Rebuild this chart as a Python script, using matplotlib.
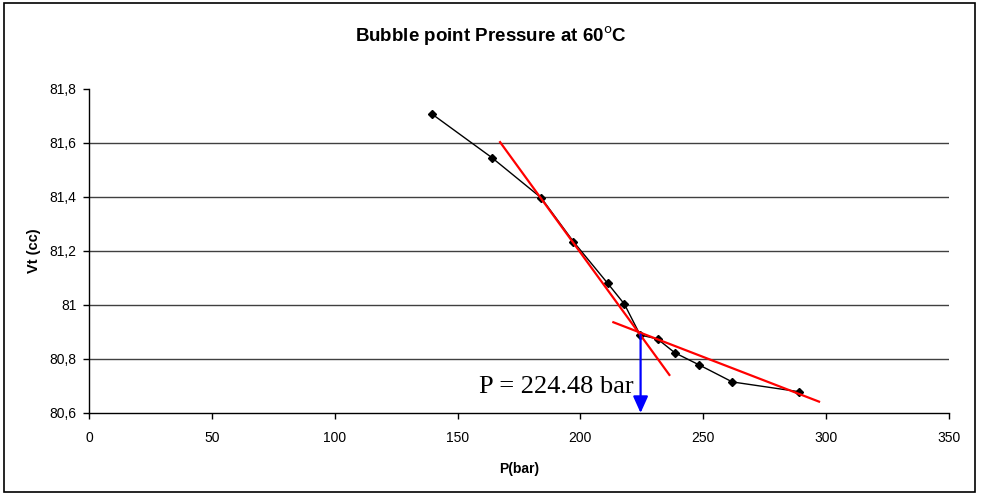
import matplotlib
matplotlib.use("Agg")
import matplotlib.pyplot as plt
from matplotlib.patches import Rectangle
from matplotlib.ticker import FuncFormatter

# measured points: pressure (bar) vs total volume (cc)
pressure = [139.6, 163.9, 184.0, 197.1, 211.1, 217.9, 224.3, 231.4, 238.4, 248.1, 261.8, 288.8]
volume = [81.707, 81.546, 81.397, 81.235, 81.080, 81.003, 80.889, 80.874, 80.823, 80.779, 80.715, 80.679]

# hand-drawn trend lines (endpoints)
steep_x = [167.3, 236.2]
steep_y = [81.603, 80.741]
flat_x = [213.4, 297.1]
flat_y = [80.936, 80.642]

bubble_p = 224.48
bubble_v = 80.89

plt.rcParams['font.family'] = ['Liberation Sans', 'DejaVu Sans']

fig = plt.figure(figsize=(9.81, 4.94), dpi=100)
ax = fig.add_axes([0.0907, 0.164, 0.8767, 0.656])

# chart border
fig.patches.append(Rectangle((0.004, 0.004), 0.99, 0.99, transform=fig.transFigure,
                             fill=False, edgecolor='black', linewidth=1.2))

for y in [80.8, 81.0, 81.2, 81.4, 81.6]:
    ax.axhline(y, color='#404040', linewidth=1, zorder=1)

ax.plot(pressure, volume, color='black', linewidth=1, marker='D', markersize=4.5, zorder=3)
ax.plot(steep_x, steep_y, color='red', linewidth=1.6, zorder=4)
ax.plot(flat_x, flat_y, color='red', linewidth=1.6, zorder=4)

ax.annotate('', xy=(bubble_p, 80.6), xytext=(bubble_p, bubble_v),
            arrowprops=dict(arrowstyle='-|>,head_width=0.45,head_length=1.0',
                            color='blue', linewidth=1.6, shrinkA=0, shrinkB=0),
            zorder=5, annotation_clip=False)
ax.text(221.5, 80.696, 'P = %.2f bar' % bubble_p, ha='right', va='center',
        family='Liberation Serif', fontsize=19)

ax.set_xlim(0, 350)
ax.set_ylim(80.6, 81.8)
ax.set_xticks(range(0, 351, 50))
ax.set_yticks([80.6, 80.8, 81.0, 81.2, 81.4, 81.6, 81.8])
ax.yaxis.set_major_formatter(FuncFormatter(lambda v, p: ('%g' % round(v, 1)).replace('.', ',')))
ax.tick_params(direction='out', length=4, width=1, labelsize=10, pad=5)
ax.tick_params(axis='x', pad=9)

for side in ['top', 'right']:
    ax.spines[side].set_visible(False)
for side in ['left', 'bottom']:
    ax.spines[side].set_linewidth(1)

fig.text(0.5, 1 - 36 / 494, r'Bubble point Pressure at 60$^{\rm o}$C',
         ha='center', va='center', fontsize=13.5, fontweight='bold')
ax.set_xlabel('P(bar)', fontsize=10, fontweight='bold', labelpad=12)
ax.set_ylabel('Vt (cc)', fontsize=10.5, fontweight='bold', labelpad=6)

fig.savefig('out.png', dpi=100)
